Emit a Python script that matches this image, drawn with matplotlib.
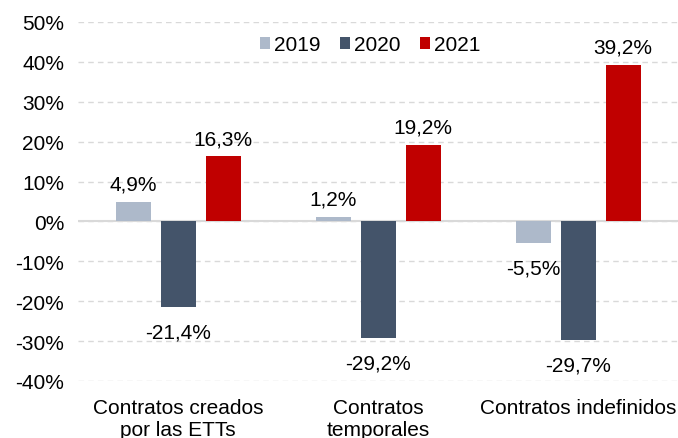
import matplotlib.pyplot as plt
import numpy as np

plt.rcParams['font.family'] = ['Liberation Sans', 'DejaVu Sans']

categories = ["Contratos creados\npor las ETTs", "Contratos\ntemporales", "Contratos indefinidos"]
years = ["2019", "2020", "2021"]
v2019 = [4.9, 1.2, -5.5]
v2020 = [-21.4, -29.2, -29.7]
v2021 = [16.3, 19.2, 39.2]
colors = ["#ADB9CA", "#44546A", "#C00000"]

fig = plt.figure(figsize=(6.78, 4.39), dpi=100)
ax = fig.add_axes([78 / 678, 1 - 382 / 439, 600 / 678, 359 / 439])

x = np.arange(len(categories))
w = 0.175
step = 0.225
for i, (vals, yr, c) in enumerate(zip([v2019, v2020, v2021], years, colors)):
    pos = x + (i - 1) * step
    ax.bar(pos, vals, w, color=c, label=yr, zorder=3)
    for p, v in zip(pos, vals):
        txt = f"{v:.1f}%".replace(".", ",")
        if v >= 0:
            ax.annotate(txt, (p, v), xytext=(0, 6), textcoords="offset points",
                        ha="center", va="bottom", fontsize=15, color="#000000")
        else:
            ax.annotate(txt, (p, v), xytext=(0, -11), textcoords="offset points",
                        ha="center", va="top", fontsize=15, color="#000000")

ax.set_xlim(-0.5, 2.5)
ax.set_ylim(-40, 50)
ax.set_yticks(np.arange(-40, 51, 10))
ax.set_yticklabels([f"{t}%" for t in range(-40, 51, 10)], fontsize=15)
ax.set_xticks(x)
ax.set_xticklabels(categories, fontsize=15, linespacing=1.2)
ax.tick_params(axis="both", length=0, pad=10)
ax.tick_params(axis="x", pad=12)

ax.grid(axis="y", color="#D9D9D9", linestyle=(0, (4, 3)), linewidth=1, zorder=0)
ax.axhline(0, color="#D9D9D9", linewidth=1.5, zorder=2)
for s in ax.spines.values():
    s.set_visible(False)

ax.legend(loc="center", bbox_to_anchor=(0.487, 0.936), ncol=3, frameon=False,
          fontsize=15, handlelength=0.5, handleheight=0.5, handletextpad=0.2,
          columnspacing=0.9)

fig.savefig("out.png", dpi=100)
